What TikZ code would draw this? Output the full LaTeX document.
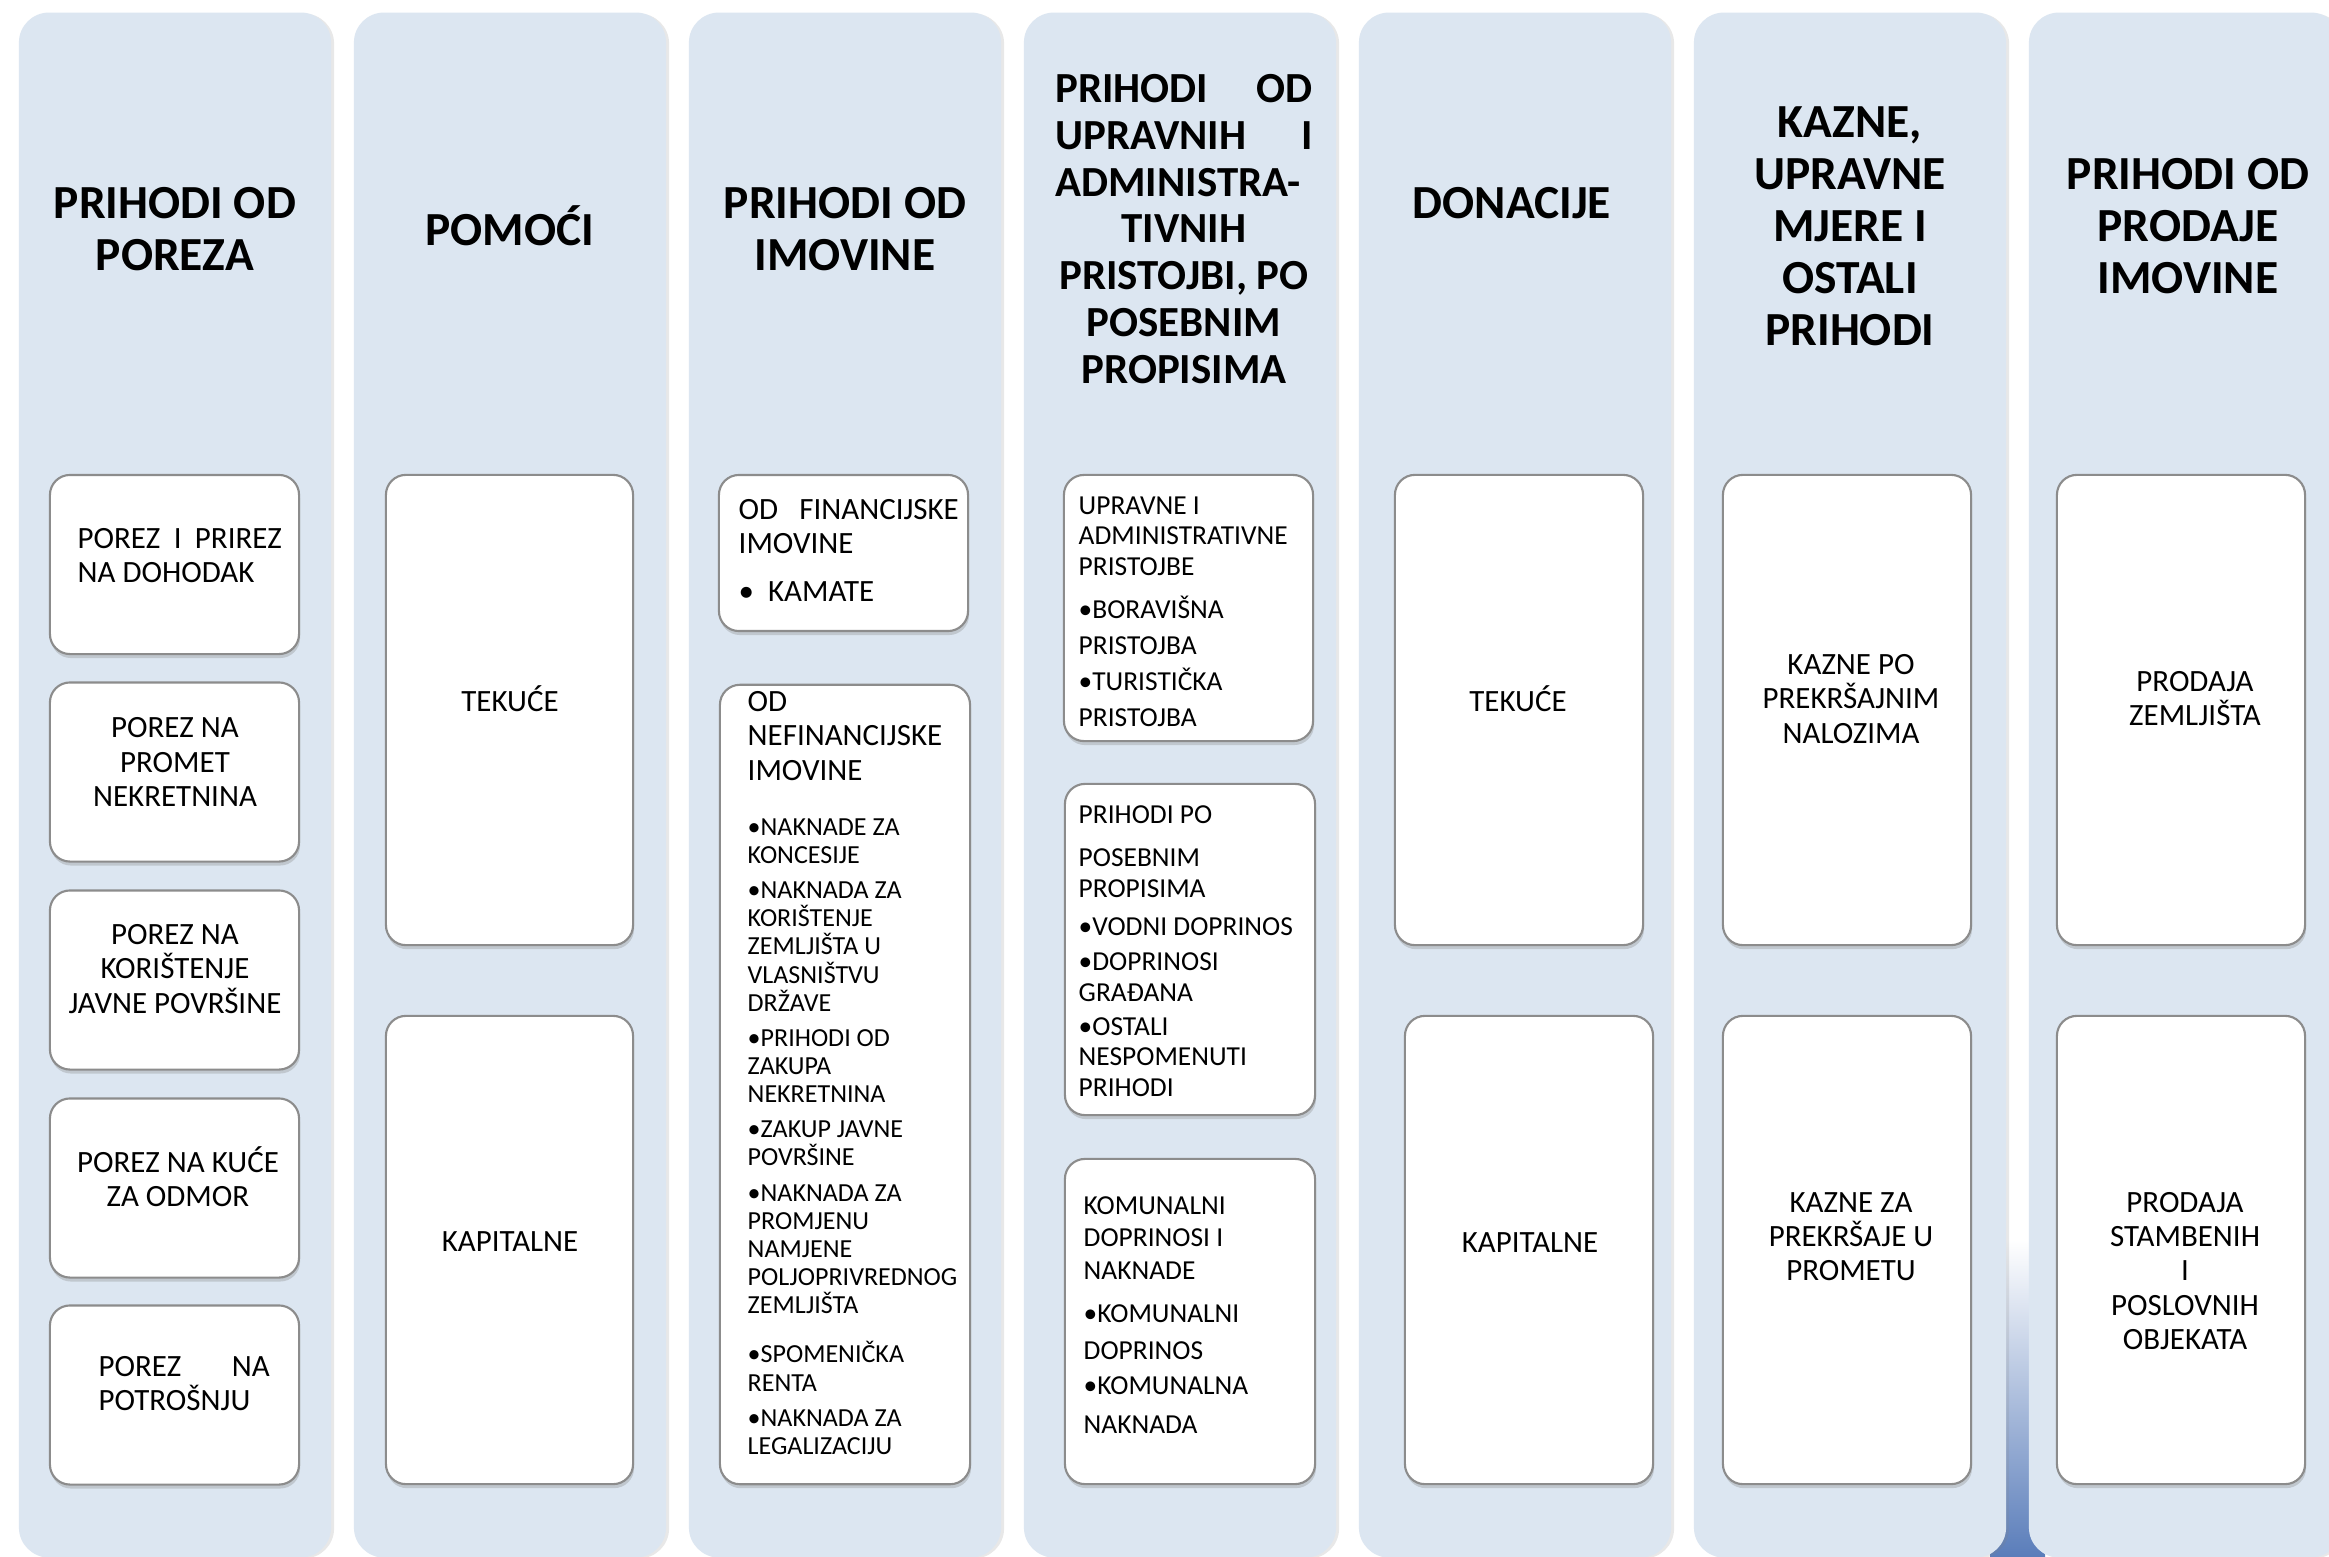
\documentclass[tikz,border=0pt]{standalone}
\usepackage{fontspec}
\setmainfont{Carlito}
\usetikzlibrary{shadows}
\definecolor{colblue}{HTML}{DCE6F1}
\definecolor{stripeblue}{HTML}{5A7DBA}
\tikzset{
	column/.style={fill=colblue, rounded corners=0.3cm, minimum width=3.12cm, minimum height=15.44cm, inner sep=0pt, drop shadow={shadow xshift=0.03cm, shadow yshift=-0.01cm, opacity=0.18}},
	card/.style={fill=white, draw=black!45, line width=0.6pt, rounded corners=0.2cm, inner sep=0pt, drop shadow={shadow xshift=0.01cm, shadow yshift=-0.04cm, opacity=0.3}},
	heading/.style={font=\bfseries\fontsize{13.5}{14.8}\selectfont, align=center, inner sep=0pt},
	entry/.style={font=\fontsize{8.8}{9.7}\selectfont, align=center, inner sep=0pt},
	smallentry/.style={font=\fontsize{7.8}{8.7}\selectfont, align=left, inner sep=0pt, anchor=north west},
	tinyentry/.style={font=\fontsize{7.4}{8}\selectfont, align=left, inner sep=0pt, anchor=north west}
}
\begin{document}
\begin{tikzpicture}[x=0.01cm, y=-0.01cm]
		\useasboundingbox (0,0) rectangle (2329,1557);
		\fill[white] (0,0) rectangle (2329,1557);
		\shade[top color=white, middle color=stripeblue!35, bottom color=stripeblue] (1990,1240) rectangle (2045,1557);
		% columns
		\node (c1) at (175,785)[column]{};
		\node (c2) at (510,785)[column]{};
		\node (c3) at (845,785)[column]{};
		\node (c4) at (1180,785)[column]{};
		\node (c5) at (1515,785)[column]{};
		\node (c6) at (1850,785)[column]{};
		\node (c7) at (2185,785)[column]{};
		% headings
		\node (h1) at (175,229)[heading]{PRIHODI OD\\POREZA};
		\node (h2) at (510,245)[heading, anchor=base]{POMOĆI};
		\node (h3) at (845,229)[heading]{PRIHODI OD\\IMOVINE};
		\node (h4) at (1184,229)[heading, font=\bfseries\fontsize{12.2}{13.3}\selectfont]{\makebox[2.57cm][s]{PRIHODI OD}\\\makebox[2.57cm][s]{UPRAVNIH I}\\\makebox[2.57cm][l]{ADMINISTRA-}\\TIVNIH\\PRISTOJBI, PO\\POSEBNIM\\PROPISIMA};
		\node (h5) at (1512,218)[heading, anchor=base]{DONACIJE};
		\node (h6) at (1850,226)[heading]{KAZNE,\\UPRAVNE\\MJERE I\\OSTALI\\PRIHODI};
		\node (h7) at (2188,226)[heading]{PRIHODI OD\\PRODAJE\\IMOVINE};
		% porezi
		\node (p1) at (174.5,564.5)[card, minimum width=2.49cm, minimum height=1.79cm]{};
		\node (p2) at (174.5,772)[card, minimum width=2.49cm, minimum height=1.79cm]{};
		\node (p3) at (174.5,980)[card, minimum width=2.49cm, minimum height=1.79cm]{};
		\node (p4) at (174.5,1188)[card, minimum width=2.49cm, minimum height=1.79cm]{};
		\node (p5) at (174.5,1395)[card, minimum width=2.49cm, minimum height=1.79cm]{};
		\node (p1t) at (77,528)[entry, align=left, anchor=north west]{\makebox[2.04cm][s]{POREZ I PRIREZ}\\NA DOHODAK};
		\node (p2t) at (175,762)[entry]{POREZ NA\\PROMET\\NEKRETNINA};
		\node (p3t) at (175,969)[entry]{POREZ NA\\KORIŠTENJE\\JAVNE POVRŠINE};
		\node (p4t) at (178,1177)[entry]{POREZ NA KUĆE\\ZA ODMOR};
		\node (p5t) at (98,1356)[entry, align=left, anchor=north west]{\makebox[1.71cm][s]{POREZ NA}\\POTROŠNJU};
		% pomoci
		\node (a1) at (509.5,710)[card, minimum width=2.47cm, minimum height=4.70cm]{};
		\node (a2) at (509.5,1250)[card, minimum width=2.47cm, minimum height=4.68cm]{};
		\node (a1t) at (510,711)[entry, anchor=base]{TEKUĆE};
		\node (a2t) at (510,1251)[entry, anchor=base]{KAPITALNE};
		% imovina
		\node (f1) at (843.5,553)[card, minimum width=2.49cm, minimum height=1.56cm]{};
		\node (f2) at (845,1084.5)[card, minimum width=2.50cm, minimum height=7.99cm]{};
		\node (f1t) at (738,499)[entry, align=left, anchor=north west]{\makebox[2.2cm][s]{OD FINANCIJSKE}\\IMOVINE\\[3.7pt]•~~KAMATE};
		\node (f2h) at (747,691)[entry, align=left, anchor=north west]{OD\\NEFINANCIJSKE\\IMOVINE};
		\node (f2t) at (747,818)[tinyentry]{•NAKNADE ZA\\KONCESIJE\\[2pt]•NAKNADA ZA\\KORIŠTENJE\\ZEMLJIŠTA U\\VLASNIŠTVU\\DRŽAVE\\[2pt]•PRIHODI OD\\ZAKUPA\\NEKRETNINA\\[2pt]•ZAKUP JAVNE\\POVRŠINE\\[2pt]•NAKNADA ZA\\PROMJENU\\NAMJENE\\POLJOPRIVREDNOG\\ZEMLJIŠTA\\[6pt]•SPOMENIČKA\\RENTA\\[2pt]•NAKNADA ZA\\LEGALIZACIJU};
		% pristojbe
		\node (g1) at (1188.5,608)[card, minimum width=2.49cm, minimum height=2.66cm]{};
		\node (g2) at (1190,949.5)[card, minimum width=2.50cm, minimum height=3.31cm]{};
		\node (g3) at (1190,1321.5)[card, minimum width=2.50cm, minimum height=3.25cm]{};
		\node (g1t) at (1078,496)[smallentry]{UPRAVNE I\\ADMINISTRATIVNE\\PRISTOJBE\\[3.6pt]•BORAVIŠNA\\[1.5pt]PRISTOJBA\\[1.5pt]•TURISTIČKA\\[1.5pt]PRISTOJBA};
		\node (g2t) at (1078,805)[smallentry]{PRIHODI PO\\[3.6pt]POSEBNIM\\PROPISIMA\\[2.1pt]•VODNI DOPRINOS\\[1.3pt]•DOPRINOSI\\GRAĐANA\\[1pt]•OSTALI\\NESPOMENUTI\\PRIHODI};
		\node (g3t) at (1083,1196)[smallentry]{KOMUNALNI\\[0.4pt]DOPRINOSI I\\[0.7pt]NAKNADE\\[3.6pt]•KOMUNALNI\\[1.6pt]DOPRINOS\\[1.3pt]•KOMUNALNA\\[2.4pt]NAKNADA};
		% donacije
		\node (e1) at (1519,710)[card, minimum width=2.48cm, minimum height=4.70cm]{};
		\node (e2) at (1529,1250)[card, minimum width=2.48cm, minimum height=4.68cm]{};
		\node (e1t) at (1518,711)[entry, anchor=base]{TEKUĆE};
		\node (e2t) at (1530,1252)[entry, anchor=base]{KAPITALNE};
		% kazne
		\node (k1) at (1847,710)[card, minimum width=2.48cm, minimum height=4.70cm]{};
		\node (k2) at (1847,1250)[card, minimum width=2.48cm, minimum height=4.68cm]{};
		\node (k1t) at (1851,699)[entry]{KAZNE PO\\PREKRŠAJNIM\\NALOZIMA};
		\node (k2t) at (1851,1237)[entry]{KAZNE ZA\\PREKRŠAJE U\\PROMETU};
		% prodaja
		\node (s1) at (2181,710)[card, minimum width=2.48cm, minimum height=4.70cm]{};
		\node (s2) at (2181,1250)[card, minimum width=2.48cm, minimum height=4.68cm]{};
		\node (s1t) at (2195,699)[entry]{PRODAJA\\ZEMLJIŠTA};
		\node (s2t) at (2185,1271)[entry]{PRODAJA\\STAMBENIH\\I\\POSLOVNIH\\OBJEKATA};
\end{tikzpicture}
\end{document}
